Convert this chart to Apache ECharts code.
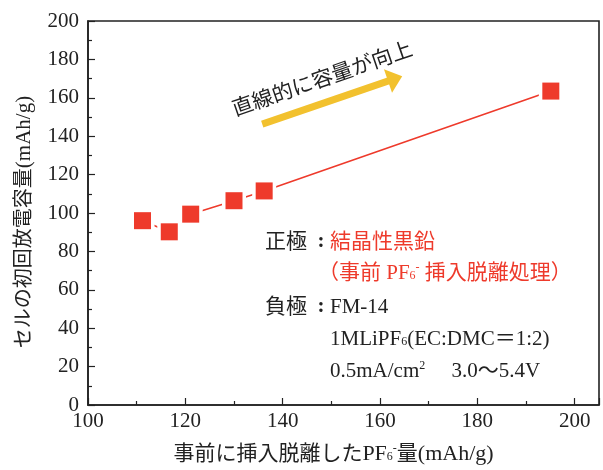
<!DOCTYPE html>
<html>
<head>
<meta charset="utf-8">
<script src="https://cdn.jsdelivr.net/npm/echarts@6/dist/echarts.min.js"></script>
<style>
html,body{margin:0;padding:0;background:#fff;}
#main{width:603px;height:470px;}
</style>
</head>
<body>
<div id="main"></div>
<script>
// ---- data ----
const xValues = [111.2, 116.7, 121.1, 130.0, 136.2, 195.1];
const yValues = [96.0, 90.2, 99.4, 106.4, 111.5, 163.5];
const xTicks = [100, 120, 140, 160, 180, 200];
const yTicks = [0, 20, 40, 60, 80, 100, 120, 140, 160, 180, 200];
const arrowStart = [135.8, 146.3];
const arrowEnd = [163.1, 170.0];
const trendText = '直線的に容量が向上';

const FONT = "'Liberation Serif','Noto Sans CJK JP',serif";
const RED = '#ee3a2b';
const INK = '#222';
const points = xValues.map((x, i) => [x, yValues[i]]);

const chart = echarts.init(document.getElementById('main'), null, {renderer: 'canvas'});
const option = {
  animation: false,
  backgroundColor: '#fff',
  grid: {left: 88, right: 4, top: 21, bottom: 65, show: true, borderColor: INK, borderWidth: 1.6, backgroundColor: 'transparent'},
  xAxis: {
    type: 'value', min: 100, max: 205, interval: 20,
    axisLine: {show: true, lineStyle: {color: INK, width: 1.6}},
    axisTick: {show: true, inside: true, length: 7, lineStyle: {color: INK, width: 1.2}},
    minorTick: {show: true, splitNumber: 2, length: 4, lineStyle: {color: INK, width: 1.2}},
    splitLine: {show: false},
    axisLabel: {fontFamily: FONT, fontSize: 21, color: INK, margin: 6,
      formatter: v => xTicks.includes(v) ? String(v) : ''},
    name: '事前に挿入脱離した{n|PF}{sub|6}{sup|-}量{n|(mAh/g)}',
    nameLocation: 'middle', nameGap: 38,
    nameTextStyle: {fontFamily: FONT, fontSize: 21, color: INK, padding: [0, 20, 0, 0],
      rich: {n: {fontFamily: FONT, fontSize: 22, color: INK},
             sub: {fontFamily: FONT, fontSize: 12, color: INK, padding: [6, 0, 0, 0]},
             sup: {fontFamily: FONT, fontSize: 12, color: INK, padding: [0, 0, 10, 0]}}}
  },
  yAxis: {
    type: 'value', min: 0, max: 200, interval: 20,
    axisLine: {show: true, lineStyle: {color: INK, width: 1.6}},
    axisTick: {show: true, inside: true, length: 7, lineStyle: {color: INK, width: 1.2}},
    minorTick: {show: true, splitNumber: 2, length: 4, lineStyle: {color: INK, width: 1.2}},
    splitLine: {show: false},
    axisLabel: {fontFamily: FONT, fontSize: 21, color: INK, margin: 9,
      formatter: v => yTicks.includes(v) ? String(v) : ''},
    name: 'セルの初回放電容量{n|(mAh/g)}',
    nameLocation: 'middle', nameGap: 53,
    nameTextStyle: {fontFamily: FONT, fontSize: 20, color: INK, padding: [0, 18, 0, 0],
      rich: {n: {fontFamily: FONT, fontSize: 21, color: INK}}}
  },
  series: [
    {
      type: 'line', data: points, symbol: 'none', z: 1,
      lineStyle: {color: RED, width: 1.6},
      markLine: {
        silent: true, symbol: ['none', 'triangle'], symbolSize: [25, 15],
        lineStyle: {color: '#f2c12e', width: 7, type: 'solid'},
        itemStyle: {color: '#f2c12e'},
        label: {show: false},
        data: [[{coord: arrowStart}, {coord: arrowEnd}]]
      }
    },
    {type: 'scatter', data: points, symbol: 'rect', symbolSize: 24, z: 2,
      itemStyle: {color: '#fff', opacity: 1}},
    {type: 'scatter', data: points, symbol: 'rect', symbolSize: 17, z: 3,
      itemStyle: {color: RED, opacity: 1}}
  ],
  graphic: [
    {type: 'text', x: 322, y: 78, rotation: 19 * Math.PI / 180,
      style: {text: trendText, font: "21px 'Noto Sans CJK JP'", fill: INK, align: 'center', verticalAlign: 'middle'}},
    {type: 'text', x: 265, y: 242,
      style: {text: '正極', font: "21px " + FONT, fill: INK, verticalAlign: 'middle'}},
    {type: 'text', x: 321, y: 242,
      style: {text: ':', font: "bold 21px " + FONT, fill: INK, align: 'center', verticalAlign: 'middle'}},
    {type: 'text', x: 330, y: 242,
      style: {text: '結晶性黒鉛', font: "21px " + FONT, fill: RED, verticalAlign: 'middle'}},
    {type: 'text', x: 318, y: 273,
      style: {text: '（事前 {l|PF}{sub|6}{sup|-} 挿入脱離処理）', font: "21px " + FONT, fill: RED, verticalAlign: 'middle',
        rich: {l: {fill: RED, font: "21px " + FONT},
               sub: {fill: RED, font: "12px " + FONT, padding: [6, 0, 0, 0]},
               sup: {fill: RED, font: "12px " + FONT, padding: [0, 0, 10, 0]}}}},
    {type: 'text', x: 265, y: 307,
      style: {text: '負極', font: "21px " + FONT, fill: INK, verticalAlign: 'middle'}},
    {type: 'text', x: 321, y: 307,
      style: {text: ':', font: "bold 21px " + FONT, fill: INK, align: 'center', verticalAlign: 'middle'}},
    {type: 'text', x: 330, y: 307,
      style: {text: 'FM-14', font: "21px " + FONT, fill: INK, verticalAlign: 'middle'}},
    {type: 'text', x: 330, y: 339,
      style: {text: '1MLiPF{sub|6}(EC:DMC＝1:2)', font: "21px " + FONT, fill: INK, verticalAlign: 'middle',
        rich: {sub: {fill: INK, font: "12px " + FONT, padding: [6, 0, 0, 0]}}}},
    {type: 'text', x: 330, y: 371,
      style: {text: '0.5mA/cm{sup|2}　 3.0～5.4V', font: "21px " + FONT, fill: INK, verticalAlign: 'middle',
        rich: {sup: {fill: INK, font: "12px " + FONT, padding: [0, 0, 10, 0]}}}}
  ]
};
chart.setOption(option);
</script>
</body>
</html>
